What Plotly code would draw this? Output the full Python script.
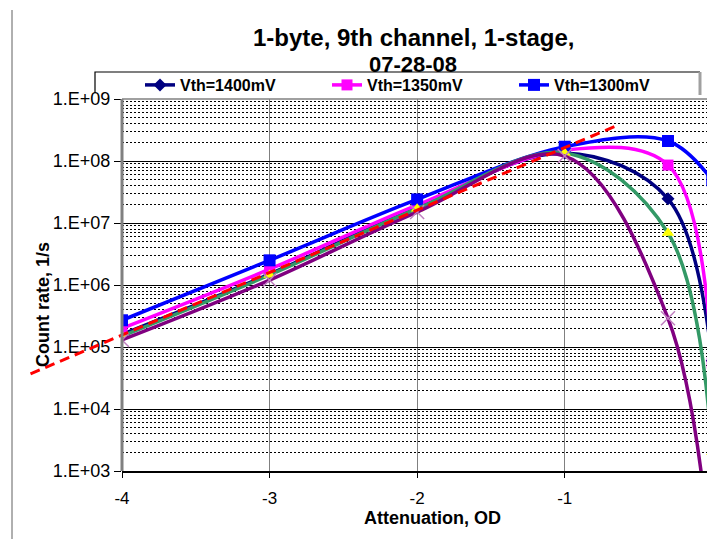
import plotly.graph_objects as go

# ---- data ----
att_od = [-4, -3, -2, -1, -0.3, 0]
vth_1400 = [1.6e5, 1.5e6, 1.8e7, 1.35e8, 2.45e7, 6.0e4]
vth_1350 = [2.0e5, 1.8e6, 1.95e7, 1.5e8, 8.6e7, 5.5e4]
vth_1300 = [2.7e5, 2.5e6, 2.4e7, 1.7e8, 2.1e8, 4.9e7]
series_green = [1.5e5, 1.45e6, 1.7e7, 1.35e8, 6.9e6, 2.0e3]
series_purple = [1.3e5, 1.2e6, 1.5e7, 1.2e8, 2.9e5, 2.0e1]
fit_x = [-4.62, -0.65]
fit_y = [3.7e4, 3.7e8]

x_ticks = [-4, -3, -2, -1, 0]
x_ticktext = ["-4", "-3", "-2", "-1", "0"]
y_ticks = [1e3, 1e4, 1e5, 1e6, 1e7, 1e8, 1e9]
y_ticktext = ["1.E+03", "1.E+04", "1.E+05", "1.E+06", "1.E+07", "1.E+08", "1.E+09"]
y_minor = [k * 10 ** e for e in range(3, 9) for k in range(2, 10)]

FONT = "Liberation Sans, Arial, sans-serif"
OFF = 8  # page body margin

# figure geometry (figure coords = reference coords - OFF)
W, H = 707, 531
L, R, T = 20, 2, 99 - OFF
B = H - (471 - OFF)
pw, ph = W - L - R, H - T - B
plot_left = 122 - OFF
dom0 = (plot_left - L) / pw
XMAX = 0.005
scale = (W - R - plot_left) / (XMAX + 4)
x2min = -4 - (plot_left - L) / scale


def px(xr):
    return (xr - OFF - L) / pw


def py(yr):
    return (H - B - (yr - OFF)) / ph


fig = go.Figure()


def add(y, name, color, msym, msize, show=True, mcolor=None, mline=None):
    marker = dict(symbol=msym, size=msize, color=mcolor or color)
    if mline:
        marker["line"] = mline
    fig.add_trace(go.Scatter(
        x=att_od, y=y, name=name, mode="lines+markers",
        line=dict(color=color, width=3.5, shape="spline", smoothing=1.0),
        marker=marker, showlegend=show))


add(vth_1400, "Vth=1400mV", "#000080", "diamond", 10)
add(vth_1350, "Vth=1350mV", "#ff00ff", "square", 11)
add(vth_1300, "Vth=1300mV", "#0000ff", "square", 12)
add(series_green, "series 4", "#339966", "triangle-up", 11, show=False, mcolor="#ffff00")
add(series_purple, "series 5", "#800080", "x-thin", 14, show=False, mcolor="#c080c0",
    mline=dict(width=1.5, color="#c080c0"))
fig.add_trace(go.Scatter(
    x=fit_x, y=fit_y, name="fit", mode="lines", xaxis="x2", yaxis="y2",
    line=dict(color="#ff0000", width=3, dash="10px,6px"), showlegend=False))

fig.update_layout(
    width=W, height=H,
    margin=dict(l=L, r=R, t=T, b=B, pad=0),
    paper_bgcolor="white", plot_bgcolor="rgba(0,0,0,0)",
    font=dict(family=FONT, color="black"),
    showlegend=True,
    legend=dict(orientation="h", x=px(140), y=py(68), xanchor="left", yanchor="top",
                bgcolor="rgba(0,0,0,0)", borderwidth=0,
                font=dict(family=FONT, size=16, weight="bold"),
                entrywidth=142, entrywidthmode="pixels", traceorder="normal"),
    xaxis=dict(domain=[dom0, 1], range=[-4, XMAX], tickvals=x_ticks, ticktext=x_ticktext,
               ticks="outside", ticklen=5,
               tickcolor="black", showgrid=True, gridcolor="#808080", gridwidth=1,
               zeroline=False, showline=True, linecolor="black", linewidth=1.5,
               tickfont=dict(size=17), ticklabelstandoff=6),
    yaxis=dict(type="log", range=[3, 9], tickvals=y_ticks, ticktext=y_ticktext,
               anchor="x", ticks="outside", ticklen=7, tickcolor="black",
               showgrid=True, gridcolor="black", gridwidth=1,
               minor=dict(tickvals=y_minor, showgrid=True, gridcolor="black",
                          gridwidth=0.7, griddash="2px,2px", ticks=""),
               zeroline=False, showline=False, tickfont=dict(size=18)),
    xaxis2=dict(domain=[0, 1], range=[x2min, XMAX], anchor="y2",
                visible=False, showgrid=False),
    yaxis2=dict(type="log", range=[3, 9], domain=[0, 1], anchor="x2",
                visible=False, showgrid=False),
)

# title lines
fig.add_annotation(text="<b>1-byte, 9th channel, 1-stage,</b>", xref="paper", yref="paper",
                   x=px(413), y=py(37.5), xanchor="center", yanchor="middle",
                   showarrow=False, font=dict(size=24, family=FONT))
fig.add_annotation(text="<b>07-28-08</b>", xref="paper", yref="paper",
                   x=px(413), y=py(64), xanchor="center", yanchor="middle",
                   showarrow=False, font=dict(size=22, family=FONT))
# axis titles
fig.add_annotation(text="<b>Attenuation, OD</b>", xref="paper", yref="paper",
                   x=px(432), y=py(518), xanchor="center", yanchor="middle",
                   showarrow=False, font=dict(size=18, family=FONT))
fig.add_annotation(text="<b>Count rate, 1/s</b>", xref="paper", yref="paper",
                   x=px(43), y=py(305), xanchor="center", yanchor="middle",
                   textangle=-90, showarrow=False, font=dict(size=18, family=FONT))

# plot-area border (gray), legend frame, outer frame
fig.add_shape(type="line", xref="x domain", yref="y domain", x0=0, x1=1, y0=1, y1=1,
              line=dict(color="#808080", width=1.5), layer="above")
fig.add_shape(type="line", xref="x domain", yref="y domain", x0=0, x1=0, y0=0, y1=1,
              line=dict(color="#808080", width=3), layer="above")
fig.add_shape(type="line", xref="x domain", yref="y domain", x0=1, x1=1, y0=0, y1=1,
              line=dict(color="#808080", width=3), layer="above")
fig.add_shape(type="path", xref="paper", yref="paper",
              path=f"M {px(95)},{py(93)} L {px(95)},{py(72)} L {px(700)},{py(72)}",
              line=dict(color="black", width=1.2), layer="above")
fig.add_shape(type="line", xref="paper", yref="paper", x0=px(700), x1=px(700),
              y0=py(72), y1=py(95), line=dict(color="#a0a0a0", width=3), layer="above")
fig.add_shape(type="line", xref="paper", yref="paper", x0=px(12), x1=px(12),
              y0=py(10), y1=py(539), line=dict(color="#606060", width=1), layer="above")

fig.write_html("out.html")
